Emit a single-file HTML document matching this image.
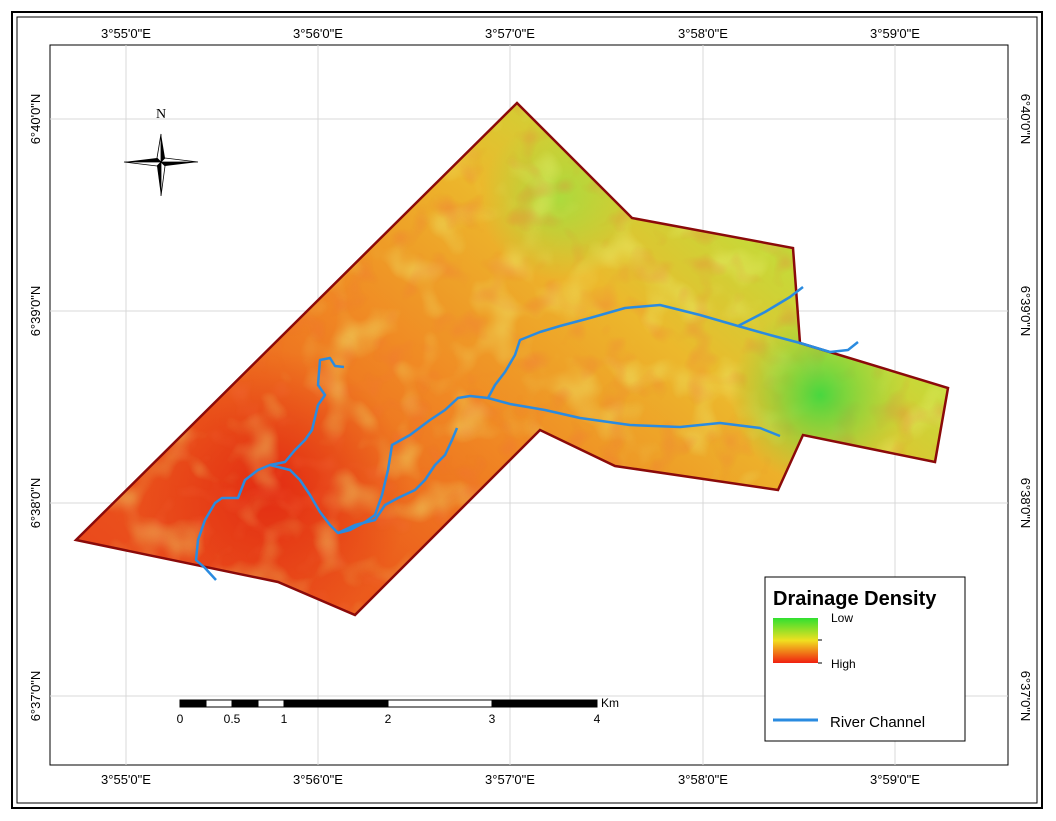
<!DOCTYPE html>
<html><head><meta charset="utf-8"><style>
html,body{margin:0;padding:0;background:#fff;}
svg text{font-family:"Liberation Sans",Arial,sans-serif;}
</style></head><body>
<svg width="1056" height="816" viewBox="0 0 1056 816" xmlns="http://www.w3.org/2000/svg">
<defs>
<linearGradient id="g1" x1="0" y1="1" x2="1" y2="0.3">
<stop offset="0" stop-color="#e8401c"/>
<stop offset="0.3" stop-color="#ec5e1c"/>
<stop offset="0.5" stop-color="#f08a24"/>
<stop offset="0.7" stop-color="#ecb82c"/>
<stop offset="0.85" stop-color="#c8d838"/>
<stop offset="1" stop-color="#a0dc40"/>
</linearGradient>
<radialGradient id="gb" cx="820" cy="395" r="90" gradientUnits="userSpaceOnUse">
<stop offset="0" stop-color="#40d840" stop-opacity="0.95"/>
<stop offset="1" stop-color="#80e040" stop-opacity="0"/>
</radialGradient>
<radialGradient id="gr" cx="270" cy="490" r="140" gradientUnits="userSpaceOnUse">
<stop offset="0" stop-color="#e02010" stop-opacity="0.8"/>
<stop offset="1" stop-color="#e02010" stop-opacity="0"/>
</radialGradient>
<radialGradient id="gg" cx="560" cy="200" r="80" gradientUnits="userSpaceOnUse">
<stop offset="0" stop-color="#a0e040" stop-opacity="0.8"/>
<stop offset="1" stop-color="#a0e040" stop-opacity="0"/>
</radialGradient>
<linearGradient id="lg" x1="0" y1="0" x2="0" y2="1">
<stop offset="0" stop-color="#30e030"/><stop offset="0.5" stop-color="#f0e020"/><stop offset="1" stop-color="#f02010"/>
</linearGradient>
<filter id="tx"><feTurbulence type="fractalNoise" baseFrequency="0.025" numOctaves="2" seed="3"/><feColorMatrix type="matrix" values="0 0 0 0 0.85  0 0 0 0 0.95  0 0 0 0 0.2  2 0 0 0 -1.0"/></filter>
<filter id="tx2"><feTurbulence type="fractalNoise" baseFrequency="0.035" numOctaves="2" seed="11"/><feColorMatrix type="matrix" values="0 0 0 0 0.9  0 0 0 0 0.15  0 0 0 0 0.05  2 0 0 0 -1.05"/></filter>
<clipPath id="cp"><polygon points="76,540 517,103 632,218 793,248 800,343 948,388 935,462 803,435 778,490 615,466 540,430 355,615 278,582"/></clipPath>
</defs>
<rect x="12" y="12" width="1030" height="796" fill="none" stroke="#000" stroke-width="2"/>
<rect x="17" y="17" width="1020" height="786" fill="none" stroke="#000" stroke-width="1"/>
<rect x="50" y="45" width="958" height="720" fill="#fff" stroke="#000" stroke-width="1"/>
<g stroke="#d8d8d8" stroke-width="1">
<line x1="126" y1="45" x2="126" y2="765"/><line x1="318" y1="45" x2="318" y2="765"/><line x1="510" y1="45" x2="510" y2="765"/><line x1="703" y1="45" x2="703" y2="765"/><line x1="895" y1="45" x2="895" y2="765"/>
<line x1="50" y1="119" x2="1008" y2="119"/><line x1="50" y1="311" x2="1008" y2="311"/><line x1="50" y1="503" x2="1008" y2="503"/><line x1="50" y1="696" x2="1008" y2="696"/>
</g>
<g clip-path="url(#cp)">
<rect x="50" y="90" width="920" height="540" fill="url(#g1)"/>
<rect x="50" y="90" width="920" height="540" fill="url(#gr)"/>
<rect x="50" y="90" width="920" height="540" fill="url(#gg)"/>
<rect x="50" y="90" width="920" height="540" filter="url(#tx)" opacity="0.6"/>
<rect x="50" y="90" width="920" height="540" filter="url(#tx2)" opacity="0.45"/>
<rect x="50" y="90" width="920" height="540" fill="url(#gb)"/>
</g>
<polygon points="76,540 517,103 632,218 793,248 800,343 948,388 935,462 803,435 778,490 615,466 540,430 355,615 278,582" fill="none" stroke="#8b0a0a" stroke-width="2.5"/>
<g fill="none" stroke="#2a8be0" stroke-width="2.5" stroke-linejoin="round">
<polyline points="216,580 205,568 196,560 198,540 205,520 215,503 222,498 238,498 245,480 258,470 270,465 285,462 295,450 305,440 312,430 318,405 325,395 318,385 320,360 330,358 335,366 344,367"/>
<polyline points="270,465 290,470 300,480 310,495 320,512 330,525 338,533 350,530 365,522 375,515 382,495 388,470 392,445 410,435 430,420 445,410 458,398 470,396 488,398 495,385 505,372 515,355 520,340 540,332 560,326 590,318 625,308 660,305 700,315 738,326 765,312 790,297 803,287"/>
<polyline points="738,326 770,335 800,343 830,352 848,350 858,342"/>
<polyline points="488,398 510,404 545,410 580,418 630,425 680,427 720,423 760,428 780,436"/>
<polyline points="338,533 355,525 375,520 385,505 398,498 415,490 425,480 435,465 445,455 452,440 457,428"/>
</g>
<g transform="translate(161,162)">
<polygon points="0,-28 4,-4 0,0" fill="#000"/><polygon points="0,-28 -4,-4 0,0" fill="#fff" stroke="#000" stroke-width="0.8"/>
<polygon points="0,34 -4,4 0,0" fill="#000"/><polygon points="0,34 4,4 0,0" fill="#fff" stroke="#000" stroke-width="0.8"/>
<polygon points="37,0 4,4 0,0" fill="#000"/><polygon points="37,0 4,-4 0,0" fill="#fff" stroke="#000" stroke-width="0.8"/>
<polygon points="-37,0 -4,-4 0,0" fill="#000"/><polygon points="-37,0 -4,4 0,0" fill="#fff" stroke="#000" stroke-width="0.8"/>
<text x="0" y="-44" font-size="14" text-anchor="middle" style="font-family:'Liberation Serif',serif">N</text>
</g>
<g font-size="13" fill="#000" text-anchor="middle">
<text x="126" y="38">3°55'0"E</text><text x="318" y="38">3°56'0"E</text><text x="510" y="38">3°57'0"E</text><text x="703" y="38">3°58'0"E</text><text x="895" y="38">3°59'0"E</text>
<text x="126" y="784">3°55'0"E</text><text x="318" y="784">3°56'0"E</text><text x="510" y="784">3°57'0"E</text><text x="703" y="784">3°58'0"E</text><text x="895" y="784">3°59'0"E</text>
</g>
<g font-size="13" fill="#000" text-anchor="middle">
<text transform="translate(40,119) rotate(-90)">6°40'0"N</text><text transform="translate(40,311) rotate(-90)">6°39'0"N</text><text transform="translate(40,503) rotate(-90)">6°38'0"N</text><text transform="translate(40,696) rotate(-90)">6°37'0"N</text>
<text transform="translate(1021,119) rotate(90)">6°40'0"N</text><text transform="translate(1021,311) rotate(90)">6°39'0"N</text><text transform="translate(1021,503) rotate(90)">6°38'0"N</text><text transform="translate(1021,696) rotate(90)">6°37'0"N</text>
</g>
<g stroke="#000" stroke-width="1">
<rect x="180" y="700" width="26" height="7" fill="#000"/><rect x="206" y="700" width="26" height="7" fill="#fff"/>
<rect x="232" y="700" width="26" height="7" fill="#000"/><rect x="258" y="700" width="26" height="7" fill="#fff"/>
<rect x="284" y="700" width="104" height="7" fill="#000"/><rect x="388" y="700" width="104" height="7" fill="#fff"/>
<rect x="492" y="700" width="105" height="7" fill="#000"/>
</g>
<g font-size="12" text-anchor="middle"><text x="180" y="723">0</text><text x="232" y="723">0.5</text><text x="284" y="723">1</text><text x="388" y="723">2</text><text x="492" y="723">3</text><text x="597" y="723">4</text><text x="610" y="707">Km</text></g>
<rect x="765" y="577" width="200" height="164" fill="#fff" stroke="#000" stroke-width="1"/>
<text x="773" y="605" font-size="20" font-weight="bold">Drainage Density</text>
<rect x="773" y="618" width="45" height="45" fill="url(#lg)"/>
<g font-size="12"><text x="831" y="622">Low</text><text x="831" y="668">High</text></g>
<line x1="818" y1="640" x2="822" y2="640" stroke="#000"/>
<line x1="818" y1="663" x2="822" y2="663" stroke="#000"/>
<line x1="773" y1="720" x2="818" y2="720" stroke="#2a8be0" stroke-width="3"/>
<text x="830" y="727" font-size="15">River Channel</text>
</svg>
</body></html>
